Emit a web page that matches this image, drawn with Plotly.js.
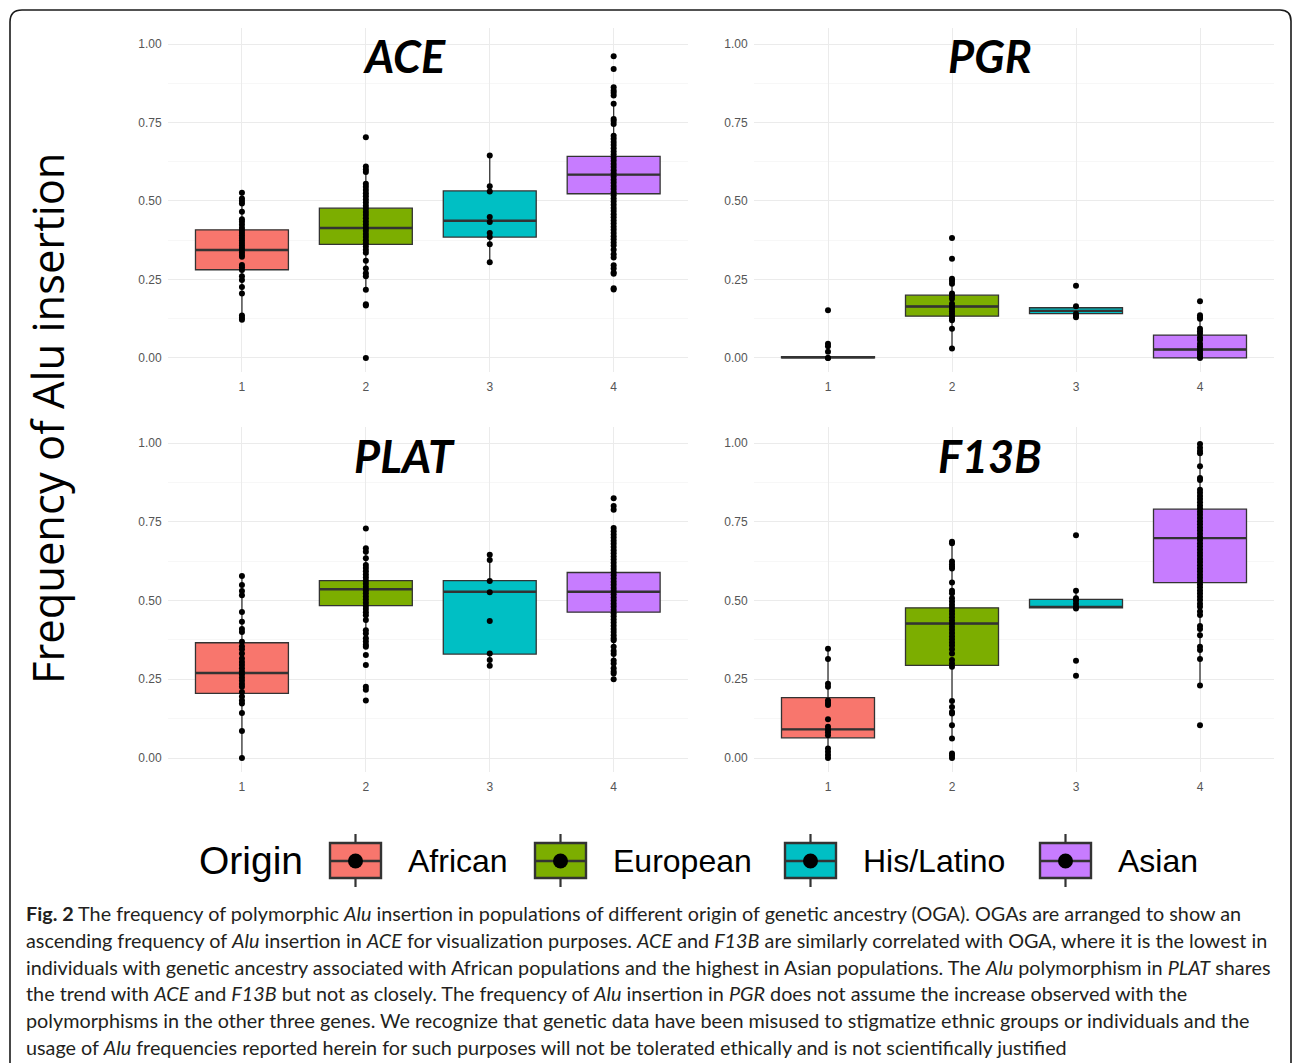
<!DOCTYPE html>
<html>
<head>
<meta charset="utf-8">
<script src="https://cdn.plot.ly/plotly-3.0.1.min.js"></script>
<style>html,body{margin:0;padding:0;background:#fff;}#chart{width:1293px;height:1063px;}</style>
</head>
<body>
<div id="chart"></div>
<script>
// ---------------- DATA ----------------
const origins = ['African', 'European', 'His/Latino', 'Asian'];
const codes = [1, 2, 3, 4];
const genes = ['ACE', 'PGR', 'PLAT', 'F13B'];
const yTickVals = [0, 0.25, 0.5, 0.75, 1];
const yTickText = ['0.00', '0.25', '0.50', '0.75', '1.00'];
const yAxisTitle = 'Frequency of Alu insertion';
const legendTitle = 'Origin';

// Box statistics (q1, median, q3, lower whisker, upper whisker) per origin
const ACE_q1  = [0.281, 0.362, 0.385, 0.523];
const ACE_med = [0.344, 0.414, 0.437, 0.584];
const ACE_q3  = [0.408, 0.477, 0.532, 0.642];
const ACE_lo  = [0.123, 0.217, 0.305, 0.345];
const ACE_hi  = [0.526, 0.610, 0.645, 0.810];

const PGR_q1  = [0.000, 0.133, 0.141, 0.000];
const PGR_med = [0.002, 0.164, 0.150, 0.027];
const PGR_q3  = [0.004, 0.200, 0.160, 0.073];
const PGR_lo  = [0.000, 0.030, 0.130, 0.000];
const PGR_hi  = [0.004, 0.252, 0.165, 0.136];

const PLAT_q1  = [0.205, 0.484, 0.330, 0.463];
const PLAT_med = [0.270, 0.536, 0.528, 0.528];
const PLAT_q3  = [0.366, 0.563, 0.563, 0.589];
const PLAT_lo  = [0.000, 0.370, 0.293, 0.280];
const PLAT_hi  = [0.578, 0.666, 0.645, 0.730];

const F13B_q1  = [0.064, 0.294, 0.477, 0.557];
const F13B_med = [0.091, 0.427, 0.480, 0.698];
const F13B_q3  = [0.192, 0.477, 0.504, 0.790];
const F13B_lo  = [0.000, 0.062, 0.475, 0.230];
const F13B_hi  = [0.347, 0.687, 0.531, 0.997];

// Individual points per origin
const ACE_African = [0.526, 0.508, 0.500, 0.492, 0.466, 0.442, 0.434, 0.424, 0.414, 0.406, 0.398, 0.390, 0.382, 0.374, 0.366, 0.358, 0.350, 0.344, 0.336, 0.328, 0.322, 0.296, 0.289, 0.280, 0.260, 0.248, 0.226, 0.205, 0.135, 0.128, 0.122];
const ACE_European = [0.703, 0.610, 0.600, 0.592, 0.555, 0.545, 0.535, 0.525, 0.515, 0.505, 0.495, 0.485, 0.475, 0.465, 0.455, 0.445, 0.435, 0.425, 0.415, 0.405, 0.395, 0.385, 0.375, 0.365, 0.355, 0.345, 0.335, 0.310, 0.285, 0.270, 0.260, 0.217, 0.171, 0.167, 0.000];
const ACE_HisLatino = [0.645, 0.547, 0.530, 0.449, 0.433, 0.398, 0.385, 0.362, 0.305];
const ACE_Asian = [0.961, 0.920, 0.862, 0.852, 0.845, 0.836, 0.810, 0.761, 0.755, 0.745, 0.708, 0.698, 0.688, 0.678, 0.668, 0.658, 0.648, 0.638, 0.628, 0.618, 0.608, 0.598, 0.588, 0.578, 0.568, 0.558, 0.548, 0.538, 0.528, 0.518, 0.508, 0.498, 0.488, 0.478, 0.468, 0.458, 0.448, 0.438, 0.428, 0.418, 0.408, 0.398, 0.388, 0.378, 0.368, 0.358, 0.345, 0.330, 0.320, 0.295, 0.285, 0.272, 0.268, 0.222, 0.218];

const PGR_African = [0.152, 0.045, 0.037, 0.020, 0.000, 0.000];
const PGR_European = [0.382, 0.316, 0.252, 0.245, 0.236, 0.205, 0.197, 0.189, 0.173, 0.165, 0.157, 0.149, 0.141, 0.133, 0.125, 0.120, 0.093, 0.030];
const PGR_HisLatino = [0.230, 0.165, 0.141, 0.135, 0.130];
const PGR_Asian = [0.181, 0.136, 0.130, 0.125, 0.093, 0.085, 0.077, 0.065, 0.057, 0.045, 0.037, 0.029, 0.021, 0.013, 0.005, 0.000];

const PLAT_African = [0.578, 0.549, 0.530, 0.517, 0.464, 0.433, 0.410, 0.400, 0.369, 0.355, 0.345, 0.332, 0.316, 0.305, 0.295, 0.285, 0.275, 0.265, 0.255, 0.245, 0.235, 0.226, 0.210, 0.195, 0.183, 0.173, 0.143, 0.086, 0.000];
const PLAT_European = [0.729, 0.666, 0.655, 0.634, 0.613, 0.603, 0.593, 0.583, 0.573, 0.563, 0.553, 0.543, 0.533, 0.523, 0.513, 0.503, 0.493, 0.483, 0.473, 0.463, 0.453, 0.438, 0.406, 0.395, 0.380, 0.370, 0.360, 0.353, 0.327, 0.295, 0.226, 0.217, 0.183];
const PLAT_HisLatino = [0.645, 0.629, 0.562, 0.526, 0.435, 0.332, 0.311, 0.293];
const PLAT_Asian = [0.825, 0.800, 0.788, 0.730, 0.720, 0.710, 0.700, 0.690, 0.680, 0.670, 0.660, 0.650, 0.640, 0.630, 0.620, 0.610, 0.600, 0.590, 0.580, 0.570, 0.560, 0.550, 0.540, 0.530, 0.520, 0.510, 0.500, 0.490, 0.480, 0.470, 0.460, 0.450, 0.440, 0.430, 0.420, 0.410, 0.400, 0.390, 0.380, 0.374, 0.353, 0.340, 0.330, 0.310, 0.300, 0.285, 0.275, 0.268, 0.250];

const F13B_African = [0.347, 0.314, 0.236, 0.226, 0.183, 0.175, 0.168, 0.123, 0.099, 0.090, 0.082, 0.072, 0.030, 0.020, 0.010, 0.000];
const F13B_European = [0.687, 0.682, 0.624, 0.615, 0.608, 0.602, 0.557, 0.531, 0.523, 0.507, 0.497, 0.487, 0.477, 0.467, 0.457, 0.447, 0.437, 0.427, 0.417, 0.407, 0.397, 0.387, 0.377, 0.367, 0.357, 0.345, 0.332, 0.311, 0.300, 0.290, 0.181, 0.162, 0.146, 0.141, 0.104, 0.062, 0.014, 0.008, 0.000];
const F13B_HisLatino = [0.707, 0.531, 0.507, 0.500, 0.490, 0.480, 0.475, 0.309, 0.261];
const F13B_Asian = [0.997, 0.985, 0.975, 0.968, 0.926, 0.889, 0.883, 0.852, 0.842, 0.832, 0.822, 0.812, 0.802, 0.792, 0.782, 0.772, 0.762, 0.752, 0.742, 0.732, 0.722, 0.712, 0.702, 0.692, 0.682, 0.672, 0.662, 0.652, 0.642, 0.632, 0.622, 0.612, 0.602, 0.592, 0.582, 0.572, 0.562, 0.552, 0.542, 0.532, 0.522, 0.512, 0.502, 0.490, 0.480, 0.465, 0.454, 0.419, 0.410, 0.390, 0.353, 0.343, 0.314, 0.230, 0.104];

const captionLines = [
  '<b>Fig. 2</b> The frequency of polymorphic <i>Alu</i> insertion in populations of different origin of genetic ancestry (OGA). OGAs are arranged to show an',
  'ascending frequency of <i>Alu</i> insertion in <i>ACE</i> for visualization purposes. <i>ACE</i> and <i>F13B</i> are similarly correlated with OGA, where it is the lowest in',
  'individuals with genetic ancestry associated with African populations and the highest in Asian populations. The <i>Alu</i> polymorphism in <i>PLAT</i> shares',
  'the trend with <i>ACE</i> and <i>F13B</i> but not as closely. The frequency of <i>Alu</i> insertion in <i>PGR</i> does not assume the increase observed with the',
  'polymorphisms in the other three genes. We recognize that genetic data have been misused to stigmatize ethnic groups or individuals and the',
  'usage of <i>Alu</i> frequencies reported herein for such purposes will not be tolerated ethically and is not scientifically justified'
];

// ---------------- STYLE / LAYOUT ----------------
const W = 1293, H = 1063;
const fillColors = ['#F8766D', '#7CAE00', '#00BFC4', '#C77CFF'];
const boxLine = '#333333';
const px = v => v / W;
const py = v => 1 - v / H;

const stats = {
  ACE:  {q1: ACE_q1,  med: ACE_med,  q3: ACE_q3,  lo: ACE_lo,  hi: ACE_hi,  pts: [ACE_African, ACE_European, ACE_HisLatino, ACE_Asian]},
  PGR:  {q1: PGR_q1,  med: PGR_med,  q3: PGR_q3,  lo: PGR_lo,  hi: PGR_hi,  pts: [PGR_African, PGR_European, PGR_HisLatino, PGR_Asian]},
  PLAT: {q1: PLAT_q1, med: PLAT_med, q3: PLAT_q3, lo: PLAT_lo, hi: PLAT_hi, pts: [PLAT_African, PLAT_European, PLAT_HisLatino, PLAT_Asian]},
  F13B: {q1: F13B_q1, med: F13B_med, q3: F13B_q3, lo: F13B_lo, hi: F13B_hi, pts: [F13B_African, F13B_European, F13B_HisLatino, F13B_Asian]}
};

const xDomL = [px(167.6), px(688)], xDomR = [px(753.6), px(1274.4)];
const yDomT = [py(372.1), py(28.3)], yDomB = [py(772.2), py(427.3)];
const panels = [
  {gene: 'ACE',  ax: '',  xd: xDomL, yd: yDomT, tx: 404, ty: 56},
  {gene: 'PGR',  ax: '2', xd: xDomR, yd: yDomT, tx: 990, ty: 56},
  {gene: 'PLAT', ax: '3', xd: xDomL, yd: yDomB, tx: 405, ty: 456},
  {gene: 'F13B', ax: '4', xd: xDomR, yd: yDomB, tx: 990, ty: 456}
];

const tickFont = {family: 'Liberation Sans, Arial, sans-serif', size: 12, color: '#555555'};
const traces = [];
const layout = {
  width: W, height: H,
  margin: {l: 0, r: 0, t: 0, b: 0},
  paper_bgcolor: '#ffffff', plot_bgcolor: '#ffffff',
  showlegend: false,
  boxmode: 'overlay',
  annotations: [], shapes: []
};

panels.forEach(p => {
  const s = stats[p.gene];
  const xa = 'x' + p.ax, ya = 'y' + p.ax;
  codes.forEach((c, i) => {
    traces.push({
      type: 'box', x: [c], q1: [s.q1[i]], median: [s.med[i]], q3: [s.q3[i]],
      lowerfence: [s.lo[i]], upperfence: [s.hi[i]],
      xaxis: xa, yaxis: ya, width: 0.75, whiskerwidth: 0,
      fillcolor: fillColors[i], line: {color: boxLine, width: 1.3},
      boxpoints: false, hoverinfo: 'skip', showlegend: false
    });
  });
  codes.forEach((c, i) => {
    // thicker median line drawn as a flat box at the median
    traces.push({
      type: 'box', x: [c], q1: [s.med[i]], median: [s.med[i]], q3: [s.med[i]],
      lowerfence: [s.med[i]], upperfence: [s.med[i]],
      xaxis: xa, yaxis: ya, width: 0.75, whiskerwidth: 0,
      fillcolor: 'rgba(0,0,0,0)', line: {color: boxLine, width: 2.4},
      boxpoints: false, hoverinfo: 'skip', showlegend: false
    });
  });
  codes.forEach((c, i) => {
    traces.push({
      type: 'scatter', mode: 'markers',
      x: s.pts[i].map(() => c), y: s.pts[i],
      xaxis: xa, yaxis: ya,
      marker: {color: '#000000', size: 6},
      hoverinfo: 'skip', showlegend: false
    });
  });
  layout['xaxis' + p.ax] = {
    domain: p.xd, anchor: ya, range: [0.4, 4.6],
    tickmode: 'array', tickvals: codes, ticktext: codes.map(String),
    showgrid: true, gridcolor: '#ebebeb', gridwidth: 1,
    zeroline: false, showline: false, ticks: '', tickfont: tickFont,
    ticklabelstandoff: 6, fixedrange: true
  };
  layout['yaxis' + p.ax] = {
    domain: p.yd, anchor: xa, range: [-0.045, 1.05],
    tickmode: 'array', tickvals: yTickVals, ticktext: yTickText,
    showgrid: true, gridcolor: '#ebebeb', gridwidth: 1,
    minor: {tickmode: 'array', tickvals: [0.125, 0.375, 0.625, 0.875], showgrid: true, gridcolor: '#f3f3f3', gridwidth: 0.7},
    zeroline: false, showline: false, ticks: '', tickfont: tickFont,
    ticklabelstandoff: 5, fixedrange: true
  };
  layout.annotations.push({
    xref: 'paper', yref: 'paper', x: px(p.tx), y: py(p.ty),
    xanchor: 'center', yanchor: 'middle', showarrow: false,
    text: '<b><i>' + p.gene + '</i></b>',
    font: {family: 'Lato, Open Sans, sans-serif', size: 45, color: '#000000'}
  });
});

// y-axis title
layout.annotations.push({
  xref: 'paper', yref: 'paper', x: px(47), y: py(419),
  xanchor: 'center', yanchor: 'middle', showarrow: false, textangle: -90,
  text: yAxisTitle,
  font: {family: 'Open Sans, sans-serif', size: 43.5, color: '#000000'}
});

// Legend (drawn manually to reproduce ggplot's large keys)
const legFont = 'Liberation Sans, Arial, sans-serif';
const legY = 861;
layout.annotations.push({
  xref: 'paper', yref: 'paper', x: px(197), y: py(legY - 1),
  xanchor: 'left', yanchor: 'middle', showarrow: false,
  text: legendTitle, font: {family: legFont, size: 39, color: '#000000'}
});
const keyX = [330, 535, 785, 1040];
origins.forEach((o, i) => {
  const k = keyX[i], kc = k + 25.5;
  layout.shapes.push({type: 'line', xref: 'paper', yref: 'paper', x0: px(kc), x1: px(kc), y0: py(834), y1: py(887), line: {color: boxLine, width: 2.2}, layer: 'above'});
  layout.shapes.push({type: 'rect', xref: 'paper', yref: 'paper', x0: px(k), x1: px(k + 51), y0: py(878), y1: py(843), fillcolor: fillColors[i], line: {color: boxLine, width: 2.4}, layer: 'above'});
  layout.shapes.push({type: 'line', xref: 'paper', yref: 'paper', x0: px(k), x1: px(k + 51), y0: py(legY), y1: py(legY), line: {color: boxLine, width: 2.6}, layer: 'above'});
  layout.shapes.push({type: 'circle', xref: 'paper', yref: 'paper', x0: px(kc - 7.5), x1: px(kc + 7.5), y0: py(legY + 7.5), y1: py(legY - 7.5), fillcolor: '#000000', line: {width: 0}, layer: 'above'});
  layout.annotations.push({
    xref: 'paper', yref: 'paper', x: px(k + 76), y: py(legY),
    xanchor: 'left', yanchor: 'middle', showarrow: false,
    text: o, font: {family: legFont, size: 32, color: '#000000'}
  });
});

// Caption
captionLines.forEach((t, i) => {
  layout.annotations.push({
    xref: 'paper', yref: 'paper', x: px(24), y: py(913 + i * 26.8),
    xanchor: 'left', yanchor: 'middle', showarrow: false, align: 'left',
    text: t, font: {family: 'Lato, sans-serif', size: 19.8, color: '#231f20'}
  });
});

// Figure frame (rounded top corners)
const fr = (x, y) => px(x) + ',' + py(y);
layout.shapes.push({
  type: 'path', xref: 'paper', yref: 'paper',
  path: 'M' + fr(10, 1075) + ' L' + fr(10, 22) + ' Q' + fr(10, 10) + ' ' + fr(22, 10) +
        ' L' + fr(1280, 10) + ' Q' + fr(1291, 10) + ' ' + fr(1291, 21) + ' L' + fr(1291, 1075),
  line: {color: '#1a1a1a', width: 1.6}, layer: 'above'
});

Plotly.newPlot('chart', traces, layout, {staticPlot: true, displayModeBar: false});
</script>
</body>
</html>
